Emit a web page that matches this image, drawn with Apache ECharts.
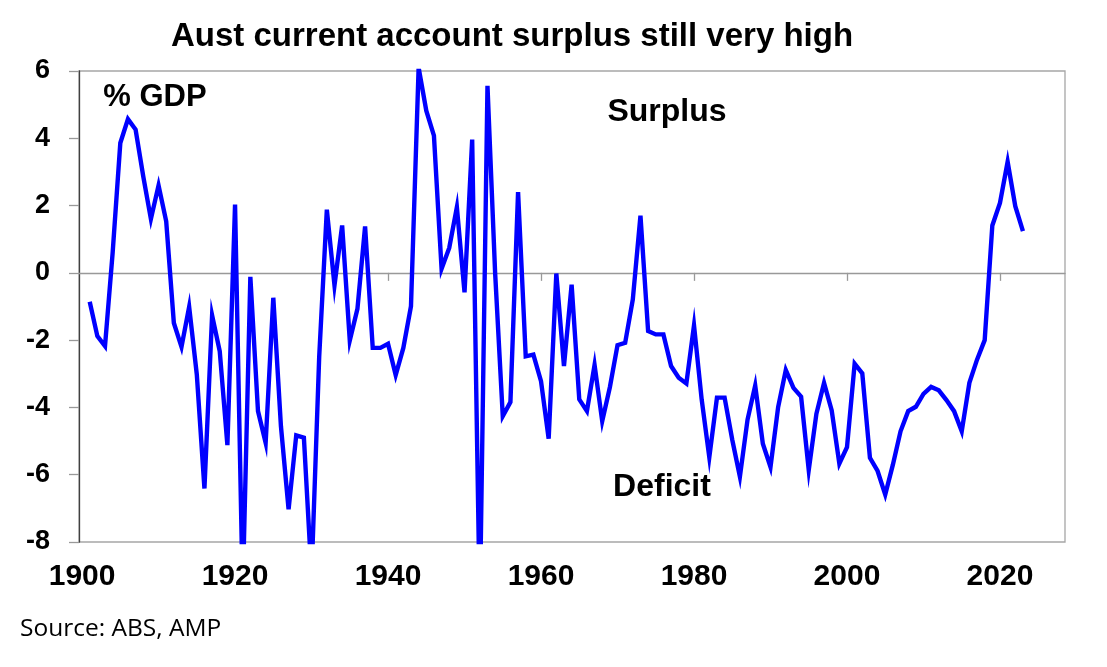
<!DOCTYPE html>
<html>
<head>
<meta charset="utf-8">
<script src="https://cdn.jsdelivr.net/npm/echarts@6/dist/echarts.min.js"></script>
<style>
html,body{margin:0;padding:0;background:#fff;}
#chart{width:1107px;height:667px;}
</style>
</head>
<body>
<div id="chart"></div>
<script>
// Years 1901..2023 (one value per year, % of GDP)
const startYear = 1901;
const values = [
  -0.86, -1.88, -2.18, 0.6, 3.86, 4.57, 4.26, 2.87, 1.6, 2.6,      // 1901-1910
  1.53, -1.49, -2.2, -1.01, -3.02, -6.41, -1.26, -2.33, -5.12, 2.03, // 1911-1920
  -9.5, -0.12, -4.11, -5.05, -0.74, -4.56, -7.03, -4.83, -4.9, -9.0, // 1921-1930
  -2.5, 1.88, -0.37, 1.41, -2.01, -1.07, 1.38, -2.23, -2.23, -2.11,  // 1931-1940
  -3.04, -2.23, -0.99, 6.1, 4.82, 4.08, 0.12, 0.74, 1.95, -0.58,     // 1941-1950
  3.96, -10.0, 5.56, 0.0, -4.26, -3.84, 2.4, -2.48, -2.43, -3.22,    // 1951-1960
  -4.93, -0.02, -2.77, -0.35, -3.76, -4.11, -2.74, -4.41, -3.4, -2.15, // 1961-1970
  -2.08, -0.79, 1.7, -1.73, -1.83, -1.83, -2.77, -3.12, -3.29, -1.56,  // 1971-1980
  -3.76, -5.48, -3.71, -3.71, -4.96, -6.06, -4.36, -3.35, -5.08, -5.77, // 1981-1990
  -3.99, -2.89, -3.42, -3.68, -5.86, -4.19, -3.27, -4.09, -5.67, -5.18, // 1991-2000
  -2.70, -2.99, -5.5, -5.89, -6.59, -5.7, -4.71, -4.11, -3.98, -3.6,    // 2001-2010
  -3.39, -3.49, -3.78, -4.11, -4.71, -3.27, -2.58, -2.0, 1.41, 2.08,    // 2011-2020
  3.3, 1.98, 1.24                                                       // 2021-2023
];
const xTickLabels = [1900, 1920, 1940, 1960, 1980, 2000, 2020];
const xTickMarks = [1920, 1940, 1960, 1980, 2000, 2020];
const titleText = 'Aust current account surplus still very high';
const unitText = '% GDP';
const surplusText = 'Surplus';
const deficitText = 'Deficit';
const sourceText = 'Source: ABS, AMP';

const seriesData = values.map((v, i) => [startYear + i, v]);

const chart = echarts.init(document.getElementById('chart'), null, {renderer: 'canvas'});
const boldFont = '"Liberation Sans", Arial, sans-serif';

chart.setOption({
  animation: false,
  backgroundColor: '#ffffff',
  grid: {
    left: 79, right: 42, top: 71, bottom: 125,
    show: true, borderColor: '#a6a6a6', borderWidth: 1.3, backgroundColor: 'transparent'
  },
  xAxis: [
    {
      type: 'value', min: 1899.6, max: 2028.5, position: 'bottom',
      axisLine: {show: false, onZero: false},
      axisTick: {show: false},
      splitLine: {show: false},
      axisLabel: {
        customValues: xTickLabels,
        margin: 20,
        color: '#000', fontSize: 30, fontWeight: 'bold', fontFamily: boldFont,
        formatter: v => String(Math.round(v))
      }
    },
    {
      type: 'value', min: 1899.6, max: 2028.5, position: 'top',
      axisLine: {show: true, onZero: true, lineStyle: {color: '#999999', width: 1.3}},
      axisTick: {show: true, inside: true, length: 8, customValues: xTickMarks, lineStyle: {color: '#999999', width: 1.3}},
      axisLabel: {show: false},
      splitLine: {show: false}
    }
  ],
  yAxis: {
    type: 'value', min: -8, max: 6, interval: 2,
    axisLine: {show: true, onZero: false, lineStyle: {color: '#404040', width: 1.3}},
    axisTick: {show: true, length: 10, lineStyle: {color: '#999999', width: 1.3}},
    splitLine: {show: false},
    axisLabel: {
      margin: 29, color: '#000', fontSize: 27, fontWeight: 'bold', fontFamily: boldFont
    }
  },
  series: [{
    type: 'line',
    xAxisIndex: 0,
    data: seriesData,
    showSymbol: false,
    clip: true,
    lineStyle: {color: '#0000ff', width: 4.4, join: 'miter'},
    itemStyle: {color: '#0000ff'}
  }],
  graphic: [
    {type: 'text', x: 512, y: 37, style: {text: titleText, align: 'center', verticalAlign: 'middle', fill: '#000', font: 'bold 33px ' + boldFont}},
    {type: 'text', x: 155, y: 97, style: {text: unitText, align: 'center', verticalAlign: 'middle', fill: '#000', font: 'bold 31px ' + boldFont}},
    {type: 'text', x: 667, y: 112, style: {text: surplusText, align: 'center', verticalAlign: 'middle', fill: '#000', font: 'bold 32px ' + boldFont}},
    {type: 'text', x: 662, y: 487, style: {text: deficitText, align: 'center', verticalAlign: 'middle', fill: '#000', font: 'bold 32px ' + boldFont}},
    {type: 'text', x: 20, y: 629, style: {text: sourceText, align: 'left', verticalAlign: 'middle', fill: '#000', font: '24.5px "Open Sans", sans-serif'}}
  ]
});
</script>
</body>
</html>
